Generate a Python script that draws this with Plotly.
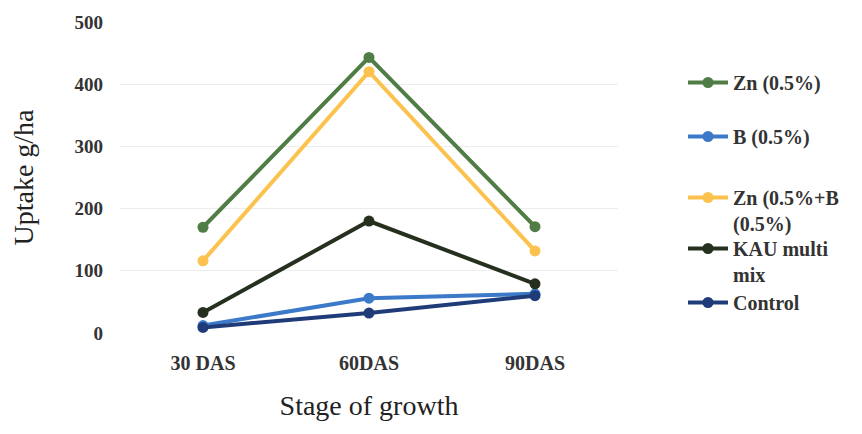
import plotly.graph_objects as go

stages = ["30 DAS", "60DAS", "90DAS"]
series_names = ["Zn (0.5%)", "B (0.5%)", "Zn (0.5%+B<br>(0.5%)", "KAU multi<br>mix", "Control"]
zn = [170, 443, 171]
b = [12, 56, 63]
zn_b = [116, 420, 132]
kau = [33, 180, 79]
control = [9, 32, 60]
values = [zn, b, zn_b, kau, control]
colors = ["#4f7d45", "#3c7ac9", "#fcc24e", "#26301f", "#1f3c78"]
y_ticks = [0, 100, 200, 300, 400, 500]

W, H = 862, 434
legend_tops = [63, 117, 178, 229, 283]
SERIF = "Liberation Serif"

fig = go.Figure()
for i, (name, vals, col) in enumerate(zip(series_names, values, colors)):
    lg = "legend" if i == 0 else f"legend{i+1}"
    fig.add_trace(go.Scatter(
        x=stages, y=vals, name=name, mode="lines+markers",
        line=dict(color=col, width=4),
        marker=dict(color=col, size=11),
        legend=lg,
    ))

legend_style = dict(
    xref="container", yref="container", xanchor="left", yanchor="top",
    bgcolor="rgba(0,0,0,0)", valign="top", itemwidth=40,
    font=dict(family=SERIF, size=20, color="#333333", weight="bold"),
)
layout_legends = {}
for i, top in enumerate(legend_tops):
    key = "legend" if i == 0 else f"legend{i+1}"
    layout_legends[key] = dict(x=683 / W, y=1 - top / H, **legend_style)

fig.update_layout(
    width=W, height=H,
    margin=dict(l=120, r=244, t=18, b=101),
    plot_bgcolor="white", paper_bgcolor="white",
    showlegend=True,
    xaxis=dict(
        type="category", range=[-0.5, 2.5],
        showgrid=False, showline=False, zeroline=False,
        ticks="", ticklabelstandoff=16,
        tickfont=dict(family=SERIF, size=20, color="#333333", weight="bold"),
        title=dict(text="Stage of growth", standoff=22,
                   font=dict(family=SERIF, size=28, color="#222222")),
    ),
    yaxis=dict(
        range=[0, 500], tickvals=y_ticks,
        showgrid=True, gridcolor="#ededed", gridwidth=1,
        zeroline=False, showline=False, ticks="", ticklabelstandoff=16,
        tickfont=dict(family=SERIF, size=19, color="#333333", weight="bold"),
        title=dict(text="Uptake g/ha", standoff=32,
                   font=dict(family=SERIF, size=28, color="#222222")),
    ),
    **layout_legends,
)

fig.write_html("out.html")
